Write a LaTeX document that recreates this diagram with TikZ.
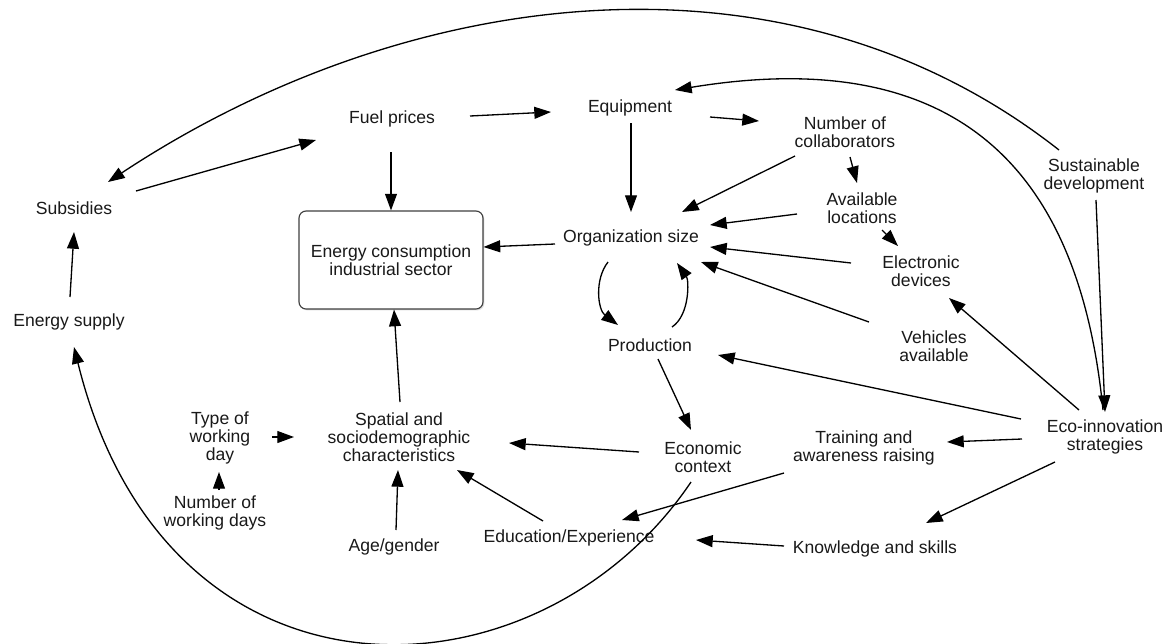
\documentclass[tikz,border=0pt]{standalone}
\usepackage{fontspec}
\setmainfont{Liberation Sans}
\usetikzlibrary{arrows.meta,calc,shadows}
\begin{document}
\begin{tikzpicture}[x=0.02cm,y=-0.02cm,
  lbl/.style={align=center,inner sep=0pt,font=\fontsize{10}{10.3}\selectfont,text=black!90},
  arr/.style={line width=0.75pt,-{Triangle[length=9.5pt,width=6.8pt]}},
  boxstyle/.style={draw=black!75,line width=0.65pt,rounded corners=4pt,fill=white,
    minimum width=3.68cm,minimum height=1.96cm,
    drop shadow={opacity=0.25,shadow xshift=0.8pt,shadow yshift=-0.8pt}},
]
\fill[white] (0,0) rectangle (1164,643);
\useasboundingbox (0,0) rectangle (1164,643);

% nodes
\node[lbl] (subs)  at (74,208)  {Subsidies};
\node[lbl] (esup)  at (69,322)  {Energy supply};
\node[lbl] (fuel)  at (392,119) {Fuel prices};
\node[lbl] (equip) at (630,108) {Equipment};
\node[lbl,boxstyle] (box) at (391,260) {Energy consumption\\industrial sector};
\node[lbl] (ncol)  at (845,132) {Number of\\collaborators};
\node[lbl] (aloc)  at (862,208) {Available\\locations};
\node[lbl] (org)   at (631,238) {Organization size};
\node[lbl] (elec)  at (921,271) {Electronic\\devices};
\node[lbl] (veh)   at (934,346) {Vehicles\\available};
\node[lbl] (prod)  at (650,345) {Production};
\node[lbl] (sust)  at (1094,176) {Sustainable\\development};
\node[lbl] (eco)   at (1105,437) {Eco-innovation\\strategies};
\node[lbl] (train) at (864,448) {Training and\\awareness raising};
\node[lbl] (econ)  at (703,457) {Economic\\context};
\node[lbl] (spat)  at (399,437) {Spatial and\\sociodemographic\\characteristics};
\node[lbl] (type)  at (220,438) {Type of\\working\\day};
\node[lbl] (ndays) at (215,513) {Number of\\working days};
\node[lbl] (age)   at (394,547) {Age/gender};
\node[lbl] (edu)   at (569,538) {Education/Experience};
\node[lbl] (know)  at (875,549) {Knowledge and skills};

% connectors
\draw[arr] ($(subs)+(62,-17)$) -- ($(fuel)+(-76,21)$);
\draw[arr] ($(sust)+(-35,-26)$) .. controls (783,-67) and (401,-12) .. ($(subs)+(34,-26)$);
\draw[arr] ($(esup)+(1,-25)$) -- ($(subs)+(0,24)$);
\draw[arr] ($(fuel)+(-1,33)$) -- ($(box.north)+(0,0)$);
\draw[arr] ($(fuel)+(78,-3)$) -- ($(equip)+(-79,4)$);
\draw[arr] ($(equip)+(1,15)$) -- ($(org)+(0,-26)$);
\draw[arr] ($(equip)+(80,9)$) -- ($(ncol)+(-86,-11)$);
\draw[arr] ($(ncol)+(-50,24)$) -- ($(org)+(51,-26)$);
\draw[arr] ($(ncol)+(5,25)$) -- ($(aloc)+(-5,-25)$);
\draw[arr] ($(aloc)+(-65,6)$) -- ($(org)+(79,-13)$);
\draw[arr] ($(aloc)+(20,22)$) -- ($(elec)+(-23,-25)$);
\draw[arr] ($(elec)+(-70,-8)$) -- ($(org)+(79,9)$);
\draw[arr] ($(veh)+(-65,-24)$) -- ($(org)+(70,24)$);
\draw[arr] ($(eco)+(-26,-27)$) -- ($(elec)+(28,27)$);
\draw[arr] ($(eco)+(-84,-18)$) -- ($(prod)+(68,10)$);
\draw[arr] ($(eco)+(-83,2)$) -- ($(train)+(83,-6)$);
\draw[arr] ($(eco)+(-50,25)$) -- ($(know)+(51,-26)$);
\draw[arr] ($(sust)+(2,24)$) -- ($(eco)+(0,-25)$);
\draw[arr] ($(eco)+(-2,-27)$) .. controls (1083,208) and (991,38) .. ($(equip)+(45,-18)$);
\draw[arr] ($(org)+(-23,24)$) .. controls (594,280) and (598,310) .. ($(prod)+(-32,-20)$);
\draw[arr] ($(prod)+(22,-18)$) .. controls (690,315) and (689,280) .. ($(org)+(46,25)$);
\draw[arr] ($(org)+(-76,6)$) -- ($(box.east)+(0,-13)$);
\draw[arr] ($(prod)+(8,14)$) -- ($(econ)+(-12,-27)$);
\draw[arr] ($(econ)+(-64,-5)$) -- ($(spat)+(110,6)$);
\draw[arr] ($(type)+(52,-1)$) -- ($(spat)+(-105,0)$);
\draw[arr] ($(ndays)+(4,-23)$) -- ($(type)+(-1,34)$);
\draw[arr] ($(spat)+(1,-35)$) -- ($(box.south)+(3,0)$);
\draw[arr] ($(age)+(2,-17)$) -- ($(spat)+(-1,33)$);
\draw[arr] ($(edu)+(-26,-17)$) -- ($(spat)+(58,33)$);
\draw[arr] ($(train)+(-80,25)$) -- ($(edu)+(53,-18)$);
\draw[arr] ($(know)+(-91,-3)$) -- ($(edu)+(127,2)$);
\draw[arr] ($(econ)+(-12,25)$) .. controls (538,709) and (167,724) .. ($(esup)+(5,25)$);
\end{tikzpicture}
\end{document}
